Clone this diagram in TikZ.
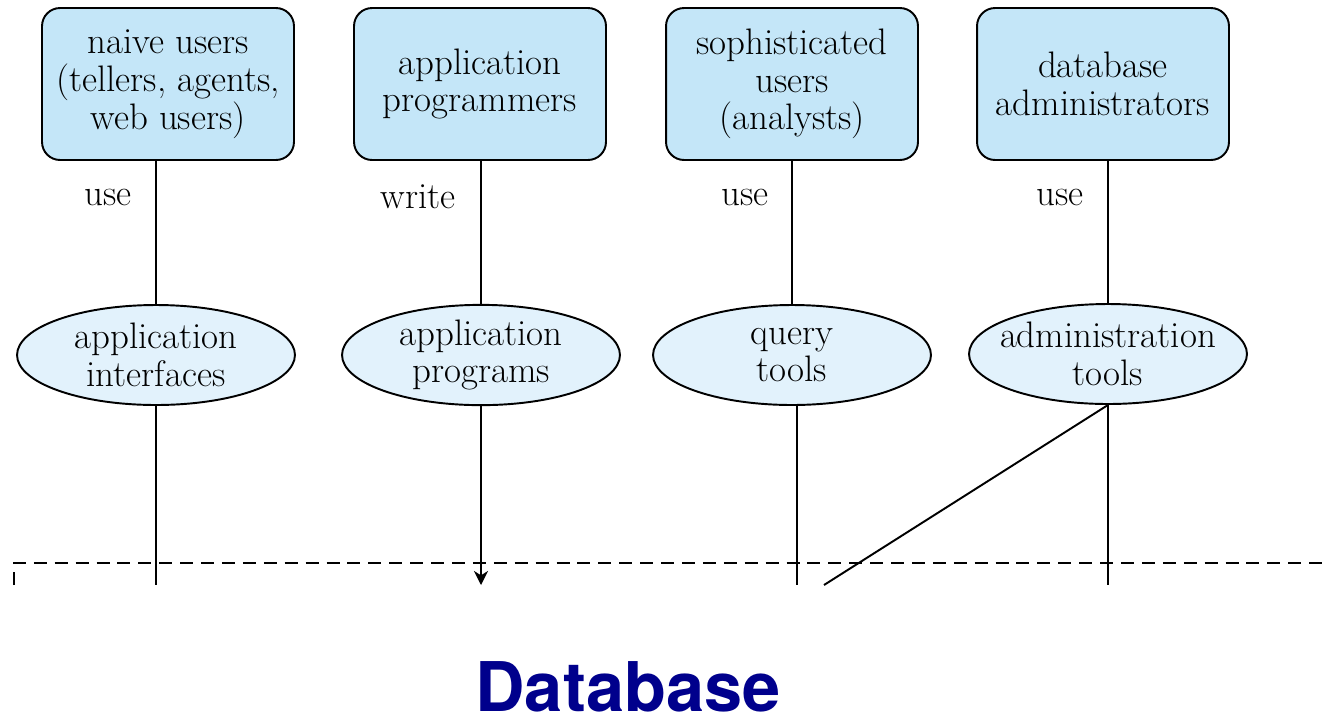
\documentclass[tikz,border=0pt]{standalone}
\usepackage{fontspec}
\setsansfont{TeX Gyre Heros}
\usetikzlibrary{shapes.geometric, arrows.meta}

\definecolor{userblue}{RGB}{196,230,248}
\definecolor{toolblue}{RGB}{226,242,252}
\definecolor{dbblue}{RGB}{0,0,140}

\begin{document}
\begin{tikzpicture}[x=0.02cm, y=-0.02cm,
    every node/.style={font=\fontsize{21}{21.5}\selectfont, align=center, inner sep=0pt},
    userbox/.style={draw, line width=1.1pt, rounded corners=0.36cm, fill=userblue,
        minimum width=5.04cm, minimum height=3.04cm},
    toolnode/.style={draw, ellipse, line width=1.1pt, fill=toolblue,
        minimum width=5.56cm, minimum height=2cm, inner xsep=-6pt},
    link/.style={line width=1.1pt}]
    \useasboundingbox (0,0) rectangle (1325,718);

    % users
    \node[userbox] (naive) at (168,84) {naive users\\(tellers, agents,\\web users)};
    \node[userbox] (prog)  at (480,84) {application\\programmers};
    \node[userbox] (soph)  at (792,84) {sophisticated\\users\\(analysts)};
    \node[userbox] (dba)   at (1103,84) {database\\administrators};

    % tools
    \node[toolnode] (appint)  at (156,355) {application\\interfaces};
    \node[toolnode] (appprog) at (481,355) {application\\programs};
    \node[toolnode] (query)   at (792,355) {query\\tools};
    \node[toolnode] (admin)   at (1108,354) {administration\\tools};

    % labels
    \node (l1) at (108,197) {use};
    \node (l2) at (418,197) {write};
    \node (l3) at (745,197) {use};
    \node (l4) at (1060,197) {use};

    % users to tools
    \draw[link] (appint.north) -- (appint.north |- naive.south);
    \draw[link] (appprog.north) -- (appprog.north |- prog.south);
    \draw[link] (query.north) -- (query.north |- soph.south);
    \draw[link] (admin.north) -- (admin.north |- dba.south);

    % ends below
    \coordinate (c1) at (156,585);
    \coordinate (c2) at (481,585);
    \coordinate (c3) at (797,585);
    \coordinate (c4) at (1108,585);
    \coordinate (c5) at (824,585);

    \draw[link] (appint.south) -- (c1);
    \draw[link, ->, >={Stealth[length=8pt,width=8pt,inset=2.5pt]}] (appprog.south) -- (c2);
    \draw[link] (c3 |- query.south) -- (c3);
    \draw[link] (c4 |- admin.south) -- (c4);
    \draw[link] (admin.south) -- (c5);

    % database frame
    \coordinate (f1) at (14,585);
    \coordinate (f2) at (14,563);
    \coordinate (f3) at (1325,563);
    \draw[line width=1.1pt, dash pattern=on 7.4pt off 4.5pt] (f1) -- (f2) -- (f3);

    \node[font=\sffamily\bfseries\fontsize{39}{44}\selectfont, text=dbblue, align=none, text depth=0pt, anchor=base] (db) at (628,711) {Database};

\end{tikzpicture}
\end{document}
